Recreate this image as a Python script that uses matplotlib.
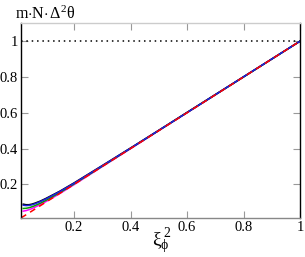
import matplotlib
matplotlib.use('Agg')
import matplotlib.pyplot as plt

# data
xi2 = [0.02, 0.03, 0.04, 0.05, 0.06, 0.08, 0.10, 0.15, 0.20, 0.30, 0.40, 0.50, 0.60, 0.80, 1.00]
black = [0.089, 0.086, 0.086, 0.089, 0.094, 0.106, 0.121, 0.162, 0.208, 0.305, 0.403, 0.502, 0.602, 0.801, 1.0]
blue = [0.083, 0.081, 0.082, 0.085, 0.090, 0.103, 0.118, 0.160, 0.206, 0.304, 0.402, 0.502, 0.601, 0.801, 1.0]
green = [0.065, 0.066, 0.069, 0.074, 0.080, 0.094, 0.110, 0.154, 0.202, 0.301, 0.401, 0.501, 0.601, 0.800, 1.0]
magenta = [0.050, 0.053, 0.058, 0.064, 0.071, 0.086, 0.103, 0.149, 0.198, 0.299, 0.399, 0.500, 0.600, 0.800, 1.0]
limit_x = [0.012, 1.0]
limit_y = [0.012, 1.0]
ticks = [0.2, 0.4, 0.6, 0.8, 1.0]
tick_labels = ['0.2', '0.4', '0.6', '0.8', '1']

plt.rcParams['font.family'] = ['Liberation Serif', 'DejaVu Serif']
plt.rcParams['mathtext.fontset'] = 'custom'
plt.rcParams['mathtext.rm'] = 'Liberation Serif'
plt.rcParams['mathtext.it'] = 'Liberation Serif'
plt.rcParams['mathtext.bf'] = 'Liberation Serif:bold'

fig = plt.figure(figsize=(3.05, 2.57), dpi=100)
ax = fig.add_axes([0.0689, 0.1506, 0.9147, 0.7587])

ax.axhline(1.0, color='black', ls=(0, (1, 2.5)), lw=1.1)
ax.plot(xi2, magenta, color='#ff00ff', lw=1.1)
ax.plot(xi2, green, color='#00a000', lw=1.1)
ax.plot(xi2, black, color='black', lw=1.1)
ax.plot(xi2, blue, color='#2020e0', lw=1.1)
ax.plot(limit_x, limit_y, color='red', ls=(0, (4, 3)), lw=1.1)

ax.set_xlim(0.012, 1.0)
ax.set_ylim(0.01, 1.10)
ax.set_xticks(ticks)
ax.set_xticklabels(tick_labels)
ax.set_yticks(ticks)
ax.set_yticklabels(tick_labels)
ax.tick_params(direction='in', length=5, width=0.8, color='#999999',
               top=True, right=True, labelsize=10.5, pad=2)
ax.spines['left'].set_color('black')
ax.spines['right'].set_color('black')
ax.spines['top'].set_color('#cccccc')
ax.spines['bottom'].set_color('#888888')
for s in ax.spines.values():
    s.set_linewidth(1.0)

fig.text(0.05, 0.945, r'm$\cdot$N$\cdot\,\Delta^2\theta$', fontsize=11.5,
         va='center', ha='left')
fig.text(0.53, 0.06, r'$\xi_\phi^{\,2}$', fontsize=14, ha='center', va='center')

fig.savefig('out.png', dpi=100)
